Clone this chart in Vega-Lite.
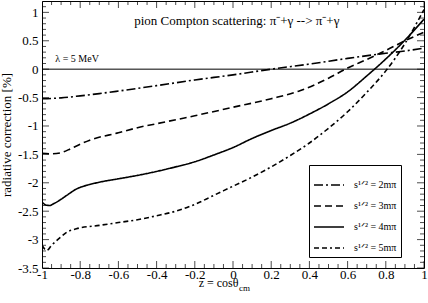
{
  "$schema": "https://vega.github.io/schema/vega-lite/v6.json",
  "width": 382,
  "height": 267,
  "autosize": "none",
  "padding": {"left": 42, "top": 1, "right": 4, "bottom": 35},
  "background": "white",
  "config": {
    "font": "Liberation Serif",
    "view": {"stroke": "black", "strokeWidth": 1},
    "axis": {"grid": false, "domain": false, "ticks": false, "labelColor": "black", "titleColor": "black", "titleFontWeight": "normal", "labelFont": "Liberation Serif", "titleFont": "Liberation Serif", "labelOverlap": false, "labelFlush": false, "labelBound": false}
  },
  "datasets": {
    "curves": [
      {"z": -1, "rc": -0.52, "s": "2m"}, {"z": -0.95, "rc": -0.515, "s": "2m"}, {"z": -0.9, "rc": -0.505, "s": "2m"}, {"z": -0.8, "rc": -0.47, "s": "2m"}, {"z": -0.7, "rc": -0.43, "s": "2m"}, {"z": -0.6, "rc": -0.385, "s": "2m"}, {"z": -0.4, "rc": -0.29, "s": "2m"}, {"z": -0.2, "rc": -0.19, "s": "2m"}, {"z": 0, "rc": -0.1, "s": "2m"}, {"z": 0.2, "rc": 0.0, "s": "2m"}, {"z": 0.4, "rc": 0.09, "s": "2m"}, {"z": 0.6, "rc": 0.19, "s": "2m"}, {"z": 0.8, "rc": 0.28, "s": "2m"}, {"z": 0.9, "rc": 0.32, "s": "2m"}, {"z": 1, "rc": 0.37, "s": "2m"},
      {"z": -1, "rc": -1.48, "s": "3m"}, {"z": -0.95, "rc": -1.49, "s": "3m"}, {"z": -0.9, "rc": -1.47, "s": "3m"}, {"z": -0.85, "rc": -1.4, "s": "3m"}, {"z": -0.8, "rc": -1.32, "s": "3m"}, {"z": -0.75, "rc": -1.25, "s": "3m"}, {"z": -0.6, "rc": -1.12, "s": "3m"}, {"z": -0.5, "rc": -1.03, "s": "3m"}, {"z": -0.4, "rc": -0.96, "s": "3m"}, {"z": -0.2, "rc": -0.82, "s": "3m"}, {"z": 0, "rc": -0.67, "s": "3m"}, {"z": 0.2, "rc": -0.52, "s": "3m"}, {"z": 0.35, "rc": -0.38, "s": "3m"}, {"z": 0.5, "rc": -0.16, "s": "3m"}, {"z": 0.6, "rc": 0.02, "s": "3m"}, {"z": 0.7, "rc": 0.17, "s": "3m"}, {"z": 0.8, "rc": 0.33, "s": "3m"}, {"z": 0.9, "rc": 0.5, "s": "3m"}, {"z": 1, "rc": 0.65, "s": "3m"},
      {"z": -1, "rc": -2.34, "s": "4m"}, {"z": -0.98, "rc": -2.39, "s": "4m"}, {"z": -0.96, "rc": -2.4, "s": "4m"}, {"z": -0.94, "rc": -2.37, "s": "4m"}, {"z": -0.9, "rc": -2.29, "s": "4m"}, {"z": -0.87, "rc": -2.22, "s": "4m"}, {"z": -0.82, "rc": -2.11, "s": "4m"}, {"z": -0.75, "rc": -2.03, "s": "4m"}, {"z": -0.7, "rc": -1.99, "s": "4m"}, {"z": -0.6, "rc": -1.93, "s": "4m"}, {"z": -0.5, "rc": -1.87, "s": "4m"}, {"z": -0.4, "rc": -1.8, "s": "4m"}, {"z": -0.3, "rc": -1.72, "s": "4m"}, {"z": -0.2, "rc": -1.63, "s": "4m"}, {"z": -0.1, "rc": -1.51, "s": "4m"}, {"z": 0, "rc": -1.38, "s": "4m"}, {"z": 0.1, "rc": -1.22, "s": "4m"}, {"z": 0.2, "rc": -1.08, "s": "4m"}, {"z": 0.3, "rc": -0.95, "s": "4m"}, {"z": 0.4, "rc": -0.79, "s": "4m"}, {"z": 0.5, "rc": -0.61, "s": "4m"}, {"z": 0.6, "rc": -0.4, "s": "4m"}, {"z": 0.7, "rc": -0.12, "s": "4m"}, {"z": 0.8, "rc": 0.18, "s": "4m"}, {"z": 0.9, "rc": 0.51, "s": "4m"}, {"z": 1, "rc": 0.88, "s": "4m"},
      {"z": -1, "rc": -3.1, "s": "5m"}, {"z": -0.985, "rc": -3.17, "s": "5m"}, {"z": -0.975, "rc": -3.19, "s": "5m"}, {"z": -0.95, "rc": -3.1, "s": "5m"}, {"z": -0.9, "rc": -2.95, "s": "5m"}, {"z": -0.87, "rc": -2.87, "s": "5m"}, {"z": -0.82, "rc": -2.81, "s": "5m"}, {"z": -0.7, "rc": -2.75, "s": "5m"}, {"z": -0.6, "rc": -2.7, "s": "5m"}, {"z": -0.5, "rc": -2.65, "s": "5m"}, {"z": -0.4, "rc": -2.58, "s": "5m"}, {"z": -0.3, "rc": -2.5, "s": "5m"}, {"z": -0.2, "rc": -2.38, "s": "5m"}, {"z": -0.1, "rc": -2.22, "s": "5m"}, {"z": 0, "rc": -2.06, "s": "5m"}, {"z": 0.1, "rc": -1.9, "s": "5m"}, {"z": 0.2, "rc": -1.72, "s": "5m"}, {"z": 0.3, "rc": -1.52, "s": "5m"}, {"z": 0.4, "rc": -1.3, "s": "5m"}, {"z": 0.5, "rc": -1.04, "s": "5m"}, {"z": 0.6, "rc": -0.75, "s": "5m"}, {"z": 0.7, "rc": -0.41, "s": "5m"}, {"z": 0.8, "rc": -0.03, "s": "5m"}, {"z": 0.9, "rc": 0.45, "s": "5m"}, {"z": 1, "rc": 1.05, "s": "5m"}
    ],
    "zero": [{"z": -1, "rc": 0}, {"z": 1, "rc": 0}],
    "xmajor": [{"v": -1}, {"v": -0.8}, {"v": -0.6}, {"v": -0.4}, {"v": -0.2}, {"v": 0}, {"v": 0.2}, {"v": 0.4}, {"v": 0.6}, {"v": 0.8}, {"v": 1}],
    "xminor": [{"v": -0.95}, {"v": -0.9}, {"v": -0.85}, {"v": -0.75}, {"v": -0.7}, {"v": -0.65}, {"v": -0.55}, {"v": -0.5}, {"v": -0.45}, {"v": -0.35}, {"v": -0.3}, {"v": -0.25}, {"v": -0.15}, {"v": -0.1}, {"v": -0.05}, {"v": 0.05}, {"v": 0.1}, {"v": 0.15}, {"v": 0.25}, {"v": 0.3}, {"v": 0.35}, {"v": 0.45}, {"v": 0.5}, {"v": 0.55}, {"v": 0.65}, {"v": 0.7}, {"v": 0.75}, {"v": 0.85}, {"v": 0.9}, {"v": 0.95}],
    "ymajor": [{"v": -3.5}, {"v": -3}, {"v": -2.5}, {"v": -2}, {"v": -1.5}, {"v": -1}, {"v": -0.5}, {"v": 0}, {"v": 0.5}, {"v": 1}],
    "yminor": [{"v": -3.4}, {"v": -3.3}, {"v": -3.2}, {"v": -3.1}, {"v": -2.9}, {"v": -2.8}, {"v": -2.7}, {"v": -2.6}, {"v": -2.4}, {"v": -2.3}, {"v": -2.2}, {"v": -2.1}, {"v": -1.9}, {"v": -1.8}, {"v": -1.7}, {"v": -1.6}, {"v": -1.4}, {"v": -1.3}, {"v": -1.2}, {"v": -1.1}, {"v": -0.9}, {"v": -0.8}, {"v": -0.7}, {"v": -0.6}, {"v": -0.4}, {"v": -0.3}, {"v": -0.2}, {"v": -0.1}, {"v": 0.1}, {"v": 0.2}, {"v": 0.3}, {"v": 0.4}, {"v": 0.6}, {"v": 0.7}, {"v": 0.8}, {"v": 0.9}, {"v": 1.1}],
    "one": [{}]
  },
  "layer": [
    {
      "data": {"name": "curves"},
      "mark": {"type": "line", "color": "black", "strokeWidth": 1.6, "interpolate": "monotone", "clip": true},
      "encoding": {
        "x": {"field": "z", "type": "quantitative", "scale": {"domain": [-1, 1], "nice": false, "zero": false},
          "axis": {"orient": "bottom", "values": [-1, -0.8, -0.6, -0.4, -0.2, 0, 0.2, 0.4, 0.6, 0.8, 1], "labelOverlap": false,
            "labelExpr": "'' + datum.value", "labelFontSize": 13, "labelPadding": 0, "title": null}},
        "y": {"field": "rc", "type": "quantitative", "scale": {"domain": [-3.5, 1.2], "nice": false, "zero": false},
          "axis": {"orient": "left", "values": [-3.5, -3, -2.5, -2, -1.5, -1, -0.5, 0, 0.5, 1], "labelOverlap": false,
            "labelExpr": "'' + datum.value", "labelFontSize": 13, "labelPadding": 4, "title": "radiative correction [%]", "titleFontSize": 13, "titlePadding": 4}},
        "strokeDash": {"field": "s", "type": "nominal",
          "scale": {"domain": ["2m", "3m", "4m", "5m"], "range": [[9, 3, 2, 3], [7, 4], [1, 0], [5, 3, 5, 3, 2, 3]]},
          "legend": {"title": null, "orient": "none", "legendX": 267, "legendY": 164, "strokeColor": "black", "fillColor": "white", "padding": 4, "symbolType": "stroke", "symbolSize": 900, "symbolStrokeWidth": 1.6, "symbolStrokeColor": "black", "rowPadding": -8, "labelFontSize": 10, "labelOffset": 9, "labelColor": "black",
            "labelExpr": "datum.value == '2m' ? 's¹ᐟ² = 2mπ' : datum.value == '3m' ? 's¹ᐟ² = 3mπ' : datum.value == '4m' ? 's¹ᐟ² = 4mπ' : 's¹ᐟ² = 5mπ'"}}
      }
    },
    {
      "data": {"name": "zero"},
      "mark": {"type": "line", "color": "black", "strokeWidth": 1},
      "encoding": {
        "x": {"field": "z", "type": "quantitative", "axis": null},
        "y": {"field": "rc", "type": "quantitative", "axis": null}
      }
    },
    {
      "data": {"name": "xmajor"},
      "mark": {"type": "tick", "orient": "vertical", "color": "black", "thickness": 1, "size": 14, "clip": true},
      "encoding": {"x": {"field": "v", "type": "quantitative", "axis": null}, "y": {"datum": -3.5, "type": "quantitative", "axis": null}}
    },
    {
      "data": {"name": "xmajor"},
      "mark": {"type": "tick", "orient": "vertical", "color": "black", "thickness": 1, "size": 14, "clip": true},
      "encoding": {"x": {"field": "v", "type": "quantitative", "axis": null}, "y": {"datum": 1.2, "type": "quantitative", "axis": null}}
    },
    {
      "data": {"name": "xminor"},
      "mark": {"type": "tick", "orient": "vertical", "color": "black", "thickness": 1, "size": 8, "clip": true},
      "encoding": {"x": {"field": "v", "type": "quantitative", "axis": null}, "y": {"datum": -3.5, "type": "quantitative", "axis": null}}
    },
    {
      "data": {"name": "xminor"},
      "mark": {"type": "tick", "orient": "vertical", "color": "black", "thickness": 1, "size": 8, "clip": true},
      "encoding": {"x": {"field": "v", "type": "quantitative", "axis": null}, "y": {"datum": 1.2, "type": "quantitative", "axis": null}}
    },
    {
      "data": {"name": "ymajor"},
      "mark": {"type": "tick", "orient": "horizontal", "color": "black", "thickness": 1, "size": 14, "clip": true},
      "encoding": {"y": {"field": "v", "type": "quantitative", "axis": null}, "x": {"datum": -1, "type": "quantitative", "axis": null}}
    },
    {
      "data": {"name": "ymajor"},
      "mark": {"type": "tick", "orient": "horizontal", "color": "black", "thickness": 1, "size": 14, "clip": true},
      "encoding": {"y": {"field": "v", "type": "quantitative", "axis": null}, "x": {"datum": 1, "type": "quantitative", "axis": null}}
    },
    {
      "data": {"name": "yminor"},
      "mark": {"type": "tick", "orient": "horizontal", "color": "black", "thickness": 1, "size": 8, "clip": true},
      "encoding": {"y": {"field": "v", "type": "quantitative", "axis": null}, "x": {"datum": -1, "type": "quantitative", "axis": null}}
    },
    {
      "data": {"name": "yminor"},
      "mark": {"type": "tick", "orient": "horizontal", "color": "black", "thickness": 1, "size": 8, "clip": true},
      "encoding": {"y": {"field": "v", "type": "quantitative", "axis": null}, "x": {"datum": 1, "type": "quantitative", "axis": null}}
    },
    {
      "data": {"name": "one"},
      "mark": {"type": "text", "align": "left", "baseline": "alphabetic", "fontSize": 10, "font": "Liberation Serif", "color": "black"},
      "encoding": {
        "x": {"datum": -0.93, "type": "quantitative", "axis": null},
        "y": {"datum": 0.13, "type": "quantitative", "axis": null},
        "text": {"value": "λ = 5 MeV"}
      }
    },
    {
      "data": {"name": "one"},
      "mark": {"type": "text", "align": "center", "baseline": "alphabetic", "fontSize": 13, "font": "Liberation Serif", "color": "black"},
      "encoding": {
        "x": {"datum": 0.02, "type": "quantitative", "axis": null},
        "y": {"datum": 0.78, "type": "quantitative", "axis": null},
        "text": {"value": "pion Compton scattering:  π⁻+γ --> π⁻+γ"}
      }
    },
    {
      "data": {"name": "one"},
      "mark": {"type": "text", "align": "right", "baseline": "alphabetic", "fontSize": 12, "font": "Liberation Serif", "color": "black", "dy": 19, "clip": false},
      "encoding": {
        "x": {"datum": 0.029, "type": "quantitative", "axis": null},
        "y": {"datum": -3.5, "type": "quantitative", "axis": null},
        "text": {"value": "z = cosθ"}
      }
    },
    {
      "data": {"name": "one"},
      "mark": {"type": "text", "align": "left", "baseline": "alphabetic", "fontSize": 9, "font": "Liberation Serif", "color": "black", "dy": 23, "clip": false},
      "encoding": {
        "x": {"datum": 0.032, "type": "quantitative", "axis": null},
        "y": {"datum": -3.5, "type": "quantitative", "axis": null},
        "text": {"value": "cm"}
      }
    }
  ],
  "resolve": {"axis": {"x": "independent", "y": "independent"}}
}
